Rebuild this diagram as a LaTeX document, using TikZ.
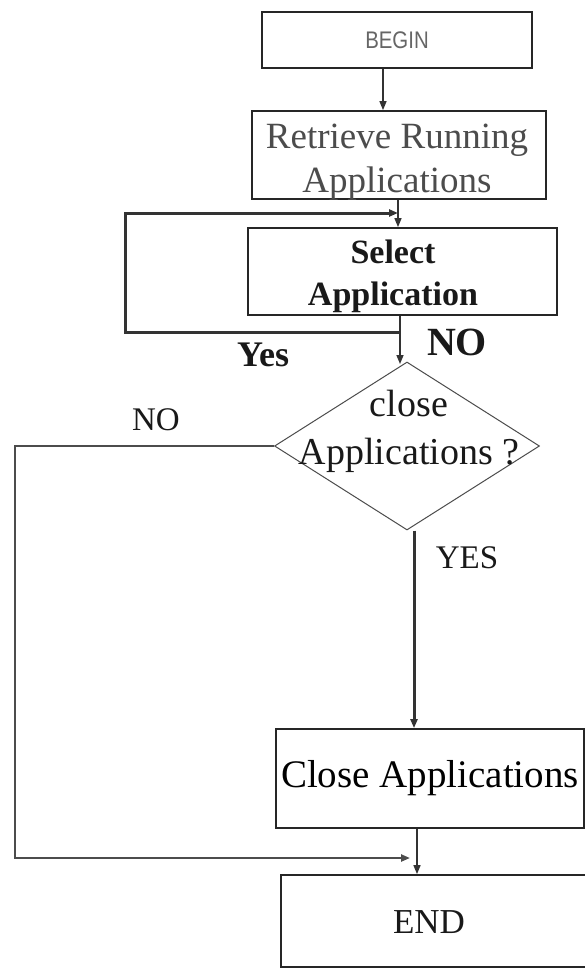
\documentclass[tikz,border=0pt]{standalone}
\usepackage{fontspec}
\usepackage{graphicx}
\setmainfont{Liberation Serif}
\newfontfamily\beginfont{Liberation Sans}
\usetikzlibrary{shapes.geometric,arrows.meta}
\begin{document}
\begin{tikzpicture}[x=1pt,y=-1pt,
  box/.style={draw=black!85, line width=1.8pt, inner sep=0pt, rectangle},
  tip/.style={-{Triangle[length=9pt,width=7pt]}},
  arr/.style={draw=black!80, line width=1.5pt, tip},
  heavy/.style={draw=black!80, line width=3pt, tip},
  grayline/.style={draw=black!70, line width=2.4pt, tip},
  lbl/.style={inner sep=0pt, text=black!90}]
\useasboundingbox[fill=white] (0,0) rectangle (585,969);

% boxes
\node[box, minimum width=270pt, minimum height=56pt] (begin) at (397,40)
  {\beginfont\fontsize{24}{28}\selectfont\color{black!60}\scalebox{0.85}[1]{BEGIN}};
\node[box, minimum width=294pt, minimum height=88pt] (retr) at (399,155) {};
\node[lbl, align=center, text=black!70, font=\fontsize{37}{44}\selectfont] (retrtext)
  at (397,162) {Retrieve Running\\Applications};
\node[box, minimum width=309pt, minimum height=87pt] (sel) at (402.5,271.5) {};
\node[lbl, align=center, font=\bfseries\fontsize{34}{42}\selectfont] (seltext)
  at (393,276.5) {Select\\Application};
\node[diamond, draw=black!70, line width=1pt, minimum width=265pt, minimum height=168pt,
  inner sep=0pt] (dec) at (407,446) {};
\node[lbl, align=center, font=\fontsize{38}{48}\selectfont] (dectext) at (409,431)
  {close\\Applications ?};
\node[box, minimum width=308pt, minimum height=99pt, font=\fontsize{39}{46}\selectfont]
  (close) at (430,778.5) {Close Applications};
\node[box, minimum width=320pt, minimum height=92pt, anchor=west] (end) at (280,921) {};
\node[lbl, font=\fontsize{35}{42}\selectfont] (endtext) at (429,922) {END};

% labels
\node[lbl, font=\bfseries\fontsize{36}{40}\selectfont] (yes1) at (263,355) {Yes};
\node[lbl, font=\bfseries\fontsize{40}{44}\selectfont] (no1) at (457,342) {NO};
\node[lbl, font=\fontsize{33}{38}\selectfont] (no2) at (156,420) {NO};
\node[lbl, font=\fontsize{33}{38}\selectfont] (yes2) at (467,558) {YES};

% helper coordinates
\coordinate (c1) at (383,0);
\coordinate (c2) at (398,0);
\coordinate (c3) at (400,0);
\coordinate (c4) at (414,0);
\coordinate (c5) at (417,0);
\coordinate (lb) at (400,332);
\coordinate (lbl) at (125,332);
\coordinate (ltl) at (125,213);
\coordinate (lt) at (398,213);
\coordinate (nlc) at (15,858);
\coordinate (nltip) at (410,858);
\coordinate (dtop) at (400,364);

% connectors
\draw[arr] (begin.south -| c1) -- (retr.north -| c1);
\draw[arr] (retr.south -| c2) -- (sel.north -| c2);
\draw[heavy] (lb) -- (lbl) -- (ltl) -- (lt);
\draw[arr] (sel.south -| c3) -- (dtop);
\draw[grayline] (dec.west) -| (nlc) -- (nltip);
\draw[heavy] (c4 |- dec.south) -- (c4 |- close.north);
\draw[arr] (close.south -| c5) -- (end.north -| c5);
\end{tikzpicture}
\end{document}
